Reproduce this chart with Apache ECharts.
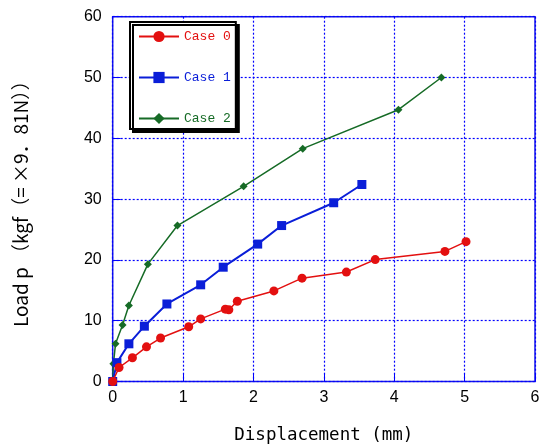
<!DOCTYPE html>
<html><head><meta charset="utf-8">
<script src="https://cdn.jsdelivr.net/npm/echarts@6/dist/echarts.min.js"></script>
<style>html,body{margin:0;padding:0;background:#fff}#c{width:541px;height:445px}</style>
</head><body><div id="c"></div>
<script>
var seriesNames = ['Case 0', 'Case 1', 'Case 2'];
var case0X = [0, 0.09, 0.28, 0.48, 0.68, 1.08, 1.25, 1.60, 1.65, 1.77, 2.29, 2.69, 3.32, 3.73, 4.72, 5.02];
var case0Y = [0, 2.3, 3.9, 5.7, 7.15, 9.0, 10.3, 11.9, 11.8, 13.2, 14.9, 17.0, 18.0, 20.05, 21.4, 23.0];
var case1X = [0, 0.06, 0.23, 0.45, 0.77, 1.25, 1.57, 2.06, 2.40, 3.14, 3.54];
var case1Y = [0, 3.1, 6.2, 9.1, 12.75, 15.9, 18.8, 22.6, 25.65, 29.4, 32.4];
var case2X = [0, 0.01, 0.04, 0.14, 0.23, 0.50, 0.92, 1.86, 2.70, 4.06, 4.67];
var case2Y = [0, 2.9, 6.2, 9.3, 12.5, 19.3, 25.65, 32.1, 38.3, 44.7, 50.0];
var xTicks = [0, 1, 2, 3, 4, 5, 6];
var yTicks = [0, 10, 20, 30, 40, 50, 60];
var xTitle = 'Displacement (mm)';
var yTitle = 'Load p （kgf（= ×9．81N））';

function pairs(xs, ys) { return xs.map(function (x, i) { return [x, ys[i]]; }); }
var colors = ['#e31010', '#0a1ed8', '#166b26'];
var symbols = ['circle', 'rect', 'diamond'];
var sizes = [9, 9, 8];
var data = [pairs(case0X, case0Y), pairs(case1X, case1Y), pairs(case2X, case2Y)];

var labelFont = '"Liberation Sans Narrow", "Liberation Sans", Arial, sans-serif';
var titleFont = '"DejaVu Sans Mono", "Liberation Mono", monospace';
var blue = '#0000ff';

var chart = echarts.init(document.getElementById('c'), null, {renderer: 'canvas'});
chart.setOption({
  animation: false,
  backgroundColor: '#fff',
  grid: {left: 112.7, right: 6, top: 16.7, bottom: 63.5, outerBoundsMode: 'none', containLabel: false,
         show: true, borderColor: '#1a1ae6', borderWidth: 1.5, backgroundColor: 'transparent'},
  legend: {
    orient: 'vertical', left: 130, top: 22,
    data: seriesNames.map(function (n, i) { return {name: n, textStyle: {color: colors[i]}}; }),
    backgroundColor: '#fff', borderColor: '#000', borderWidth: 2,
    shadowColor: '#000', shadowBlur: 0, shadowOffsetX: 3, shadowOffsetY: 3,
    padding: [8, 5, 4, 8], itemGap: 28, itemWidth: 40, itemHeight: 14,
    textStyle: {fontFamily: '"Liberation Mono", monospace', fontSize: 13}
  },
  xAxis: {
    type: 'value', min: xTicks[0], max: xTicks[xTicks.length - 1], interval: 1,
    name: xTitle, nameLocation: 'middle', nameGap: 45,
    nameTextStyle: {fontFamily: titleFont, fontSize: 17.5, color: '#000'},
    axisLine: {show: false},
    axisTick: {show: true, inside: true, length: 8, lineStyle: {color: blue, width: 1}},
    axisLabel: {fontFamily: labelFont, fontSize: 16, color: '#000', margin: 8},
    splitLine: {show: true, lineStyle: {color: blue, type: [2, 2], width: 1.2, opacity: 1}}
  },
  yAxis: {
    type: 'value', min: yTicks[0], max: yTicks[yTicks.length - 1], interval: 10,
    name: yTitle, nameLocation: 'middle', nameGap: 82,
    nameTextStyle: {fontFamily: '"Noto Sans CJK JP", "DejaVu Sans", sans-serif', fontSize: 19, color: '#000'},
    axisLine: {show: false},
    axisTick: {show: true, inside: true, length: 8, lineStyle: {color: blue, width: 1}},
    axisLabel: {fontFamily: labelFont, fontSize: 16, color: '#000', margin: 11},
    splitLine: {show: true, lineStyle: {color: blue, type: [2, 2], width: 1.2, opacity: 1}}
  },
  series: seriesNames.map(function (n, i) {
    return {
      name: n, type: 'line', data: data[i],
      symbol: symbols[i], symbolSize: sizes[i], showAllSymbol: true,
      lineStyle: {color: colors[i], width: i === 1 ? 2 : 1.5},
      itemStyle: {color: colors[i], borderWidth: 0},
      z: 3 - i
    };
  })
});
</script></body></html>
